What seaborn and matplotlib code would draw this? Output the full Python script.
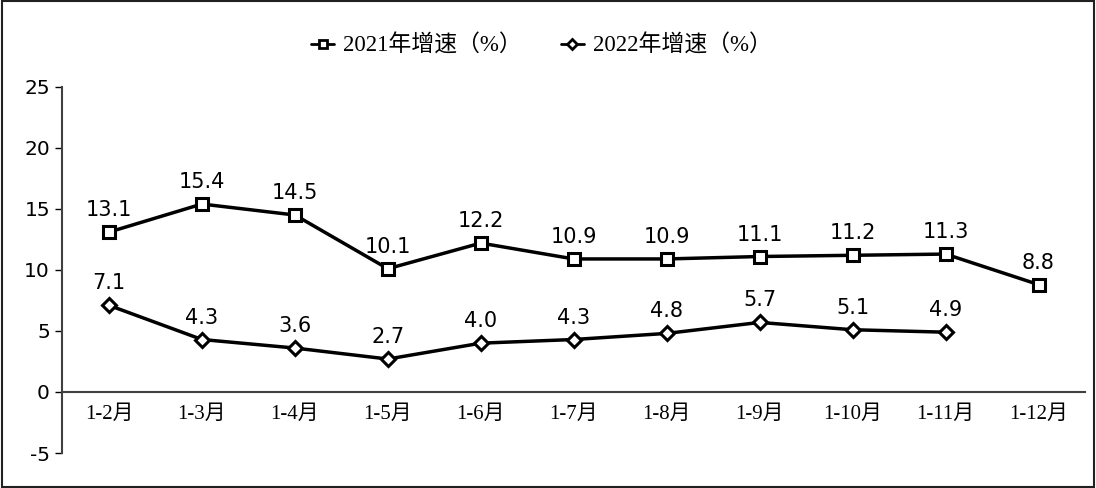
import numpy as np
import pandas as pd
import matplotlib
matplotlib.use('Agg')
import matplotlib.pyplot as plt
from matplotlib.patches import Rectangle
import seaborn as sns

# Datos
meses = ['1-2月', '1-3月', '1-4月', '1-5月', '1-6月', '1-7月',
         '1-8月', '1-9月', '1-10月', '1-11月', '1-12月']
vel_2021 = [13.1, 15.4, 14.5, 10.1, 12.2, 10.9, 10.9, 11.1, 11.2, 11.3, 8.8]
vel_2022 = [7.1, 4.3, 3.6, 2.7, 4.0, 4.3, 4.8, 5.7, 5.1, 4.9]
serie_2021 = '2021年增速（%）'
serie_2022 = '2022年增速（%）'
y_ticks = [-5, 0, 5, 10, 15, 20, 25]

sns.set_style('ticks')
plt.rcParams['font.family'] = ['DejaVu Sans', 'Noto Sans CJK SC']
plt.rcParams['axes.unicode_minus'] = False
plt.rcParams['text.color'] = 'black'
plt.rcParams['xtick.color'] = 'black'
plt.rcParams['ytick.color'] = 'black'
fuente_cn = ['Liberation Serif', 'Noto Sans CJK SC']

df21 = pd.DataFrame({'mes': meses, 'valor': vel_2021})
df22 = pd.DataFrame({'mes': meses[:len(vel_2022)], 'valor': vel_2022})

fig = plt.figure(figsize=(10.96, 4.88), dpi=100)
ax = fig.add_axes([0.057, 0.0717, 0.933, 0.7503])

sns.lineplot(data=df21, x='mes', y='valor', ax=ax, color='black', lw=2.5,
             marker='s', markersize=8.5, markerfacecolor='white',
             markeredgecolor='black', markeredgewidth=2.2, sort=False)
sns.lineplot(data=df22, x='mes', y='valor', ax=ax, color='black', lw=2.5,
             marker='D', markersize=7, markerfacecolor='white',
             markeredgecolor='black', markeredgewidth=2.2, sort=False)

# Etiquetas de datos
for i, v in enumerate(vel_2021):
    ax.annotate(f'{v:.1f}', (i, v), xytext=(0, 11.5), textcoords='offset points',
                ha='center', va='baseline', fontsize=15, color='black')
for i, v in enumerate(vel_2022):
    ax.annotate(f'{v:.1f}', (i, v), xytext=(0, 11.5), textcoords='offset points',
                ha='center', va='baseline', fontsize=15, color='black')

ax.spines['top'].set_visible(False)
ax.spines['right'].set_visible(False)
ax.spines['bottom'].set_position(('data', 0))
ax.spines['bottom'].set_color('#404040')
ax.spines['left'].set_color('#404040')
ax.spines['bottom'].set_linewidth(1.5)
ax.spines['left'].set_linewidth(1.5)

ax.set_xlim(-0.5, len(meses) - 0.5)
ax.set_ylim(-5, 25)
ax.set_yticks(y_ticks)
ax.set_xticks(range(len(meses)))
ax.set_xticklabels(meses)
ax.tick_params(axis='x', length=0, pad=9, labelsize=15,
               labelfontfamily=fuente_cn)
ax.tick_params(axis='y', length=5, width=1, labelsize=14.5, pad=4)
ax.set_xlabel('')
ax.set_ylabel('')

# Leyenda
h21 = plt.Line2D([], [], color='black', lw=2, marker='s', markersize=6,
                 markerfacecolor='white', markeredgecolor='black', markeredgewidth=2)
h22 = plt.Line2D([], [], color='black', lw=2, marker='D', markersize=5,
                 markerfacecolor='white', markeredgecolor='black', markeredgewidth=2)
fig.legend([h21, h22], [serie_2021, serie_2022], loc='center',
           bbox_to_anchor=(0.494, 0.906), ncol=2, frameon=False,
           handlelength=1.0, handletextpad=0.4, columnspacing=1.7,
           prop={'family': fuente_cn, 'size': 16.5})

# Marco de la figura
fig.patches.append(Rectangle((0.002, 0.003), 0.996, 0.994, transform=fig.transFigure,
                             fill=False, edgecolor='#202020', lw=1.5))

fig.savefig('out.png', dpi=100)
